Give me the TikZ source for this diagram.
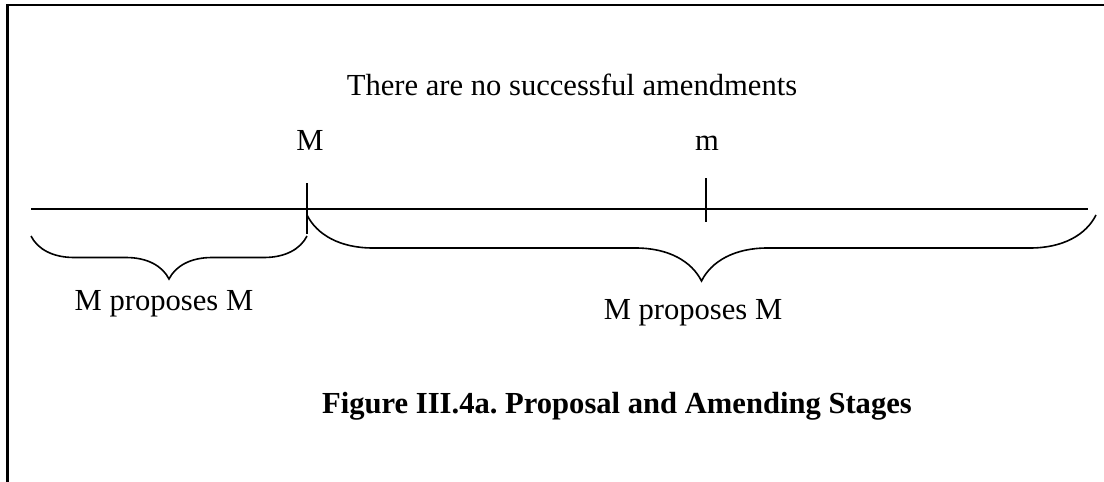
\documentclass[tikz,border=0pt]{standalone}
\usepackage{fontspec}
\setmainfont{Liberation Serif}
\usepackage{tikz}
\usetikzlibrary{positioning, decorations.pathreplacing}

\tikzset{
  lbl/.style={inner sep=0pt, anchor=base, font=\fontsize{15.3}{18}\selectfont\frenchspacing},
  axisline/.style={line width=0.8pt},
  curly/.style={line width=0.8pt, decorate, decoration={brace, mirror, amplitude=#1}},
  framebar/.style={line width=1.2pt}
}

\begin{document}
\begin{tikzpicture}[x=0.5pt, y=-0.5pt]
    \useasboundingbox (0,0) rectangle (1104,482);
    \def\liney{209} % height of the line
    
    % Open frame (top and left only)
    \draw[framebar] (7.5,482) -- (7.5,5) -- (1104,5);
    
    % Heading
    \node[lbl] (head) at (572,95) {There are no successful amendments};
    
    % The line and its two points
    \coordinate (lstart) at (31,\liney);
    \coordinate (lend) at (1088,\liney);
    \draw[axisline] (lstart) -- (lend);
    
    \coordinate (Mtop) at (307,183);
    \coordinate (Mbot) at (307,234);
    \coordinate (mtop) at (706,178);
    \coordinate (mbot) at (706,222);
    \draw[axisline] (Mtop) -- (Mbot);
    \draw[axisline] (mtop) -- (mbot);
    
    \node[lbl] (Mlbl) at (310,150) {M};
    \node[lbl] (mlbl) at (707,150) {m};
    
    % Braces under the line
    \coordinate (sleft) at (31,236);
    \coordinate (sright) at (307,236);
    \coordinate (bleft) at (307,215);
    \coordinate (bright) at (1096,215);
    \draw[curly=21.5pt] (sleft) -- (sright);
    \draw[curly=33pt] (bleft) -- (bright);
    
    \node[lbl] (lefttxt) at (164,310) {M proposes M};
    \node[lbl] (righttxt) at (693,319) {M proposes M};
    
    % Caption
    \node[lbl, font=\fontsize{15.3}{18}\selectfont\bfseries\frenchspacing] (caption) at (617,413) {Figure III.4a. Proposal and Amending Stages};
  \end{tikzpicture}
\end{document}
